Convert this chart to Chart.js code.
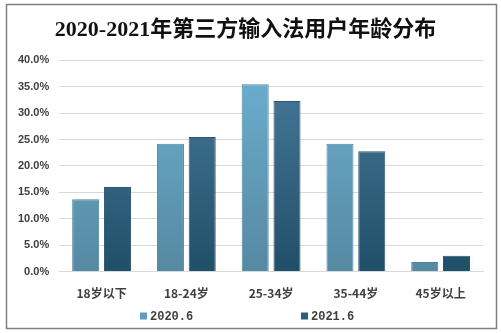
<!DOCTYPE html>
<html><head><meta charset="utf-8">
<script src="https://cdn.jsdelivr.net/npm/chart.js@4/dist/chart.umd.min.js"></script>
<style>html,body{margin:0;padding:0;background:#fff;}#wrap{width:501px;height:333px;position:relative;}</style>
</head><body><div id="wrap"><canvas id="c" width="501" height="333"></canvas></div>
<script>
const categories = ["18岁以下", "18-24岁", "25-34岁", "35-44岁", "45岁以上"];
const series2020 = [13.7, 24.2, 35.5, 24.2, 1.8];
const series2021 = [16.0, 25.5, 32.3, 22.8, 3.0];
const seriesNames = ["2020.6", "2021.6"];
const titleText = "2020-2021年第三方输入法用户年龄分布";
const legendColors = ['#5d9dbd', '#2f5e7c'];

function grad(ctx, area, c1, c2) {
  const g = ctx.createLinearGradient(0, area.top, 0, area.bottom);
  g.addColorStop(0, c1); g.addColorStop(1, c2); return g;
}
const frame = {
  id: 'frame',
  afterDraw(chart) {
    const ctx = chart.ctx; ctx.save();
    ctx.strokeStyle = '#808080'; ctx.lineWidth = 1.5;
    ctx.strokeRect(6.5, 4.5, 490, 324);
    // legend
    ctx.font = "bold 12px 'Liberation Mono', 'Noto Sans CJK SC', monospace";
    ctx.textBaseline = 'middle';
    const xs = [140, 301], y = 316;
    chart.data.datasets.forEach((ds, i) => {
      ctx.fillStyle = legendColors[i];
      ctx.fillRect(xs[i], y - 3.5, 7, 7);
      ctx.fillStyle = '#404040';
      ctx.fillText(ds.label, xs[i] + 10, y + 0.5);
    });
    ctx.restore();
  }
};
new Chart(document.getElementById('c'), {
  type: 'bar',
  data: {
    labels: categories,
    datasets: [
      { label: seriesNames[0], data: series2020,
        backgroundColor: c => { const a = c.chart.chartArea; return a ? grad(c.chart.ctx, a, '#6cb0d1', '#5689a2') : '#62a0c0'; },
        borderColor: '#4e839e', borderWidth: 1 },
      { label: seriesNames[1], data: series2021,
        backgroundColor: c => { const a = c.chart.chartArea; return a ? grad(c.chart.ctx, a, '#497b9d', '#204f68') : '#3a6a88'; },
        borderColor: '#2c5671', borderWidth: 1 }
    ]
  },
  options: {
    responsive: false, animation: false,
    layout: { padding: { left: 8, right: 18, top: 8, bottom: 25 } },
    datasets: { bar: { categoryPercentage: 0.75, barPercentage: 0.85 } },
    plugins: {
      title: { display: true, text: titleText, color: '#111',
        font: { family: "'Liberation Serif', 'Noto Sans CJK SC', serif", size: 22, weight: 'bold' },
        padding: { top: 9, bottom: 17 } },
      legend: { display: false },
      tooltip: { enabled: false }
    },
    scales: {
      x: { grid: { display: false }, border: { color: '#d9d9d9' },
        ticks: { color: '#404040', padding: 7, font: { family: "'Noto Sans CJK SC', sans-serif", size: 12, weight: 'bold' } } },
      y: { min: 0, max: 40, border: { display: false },
        grid: { color: '#d9d9d9', lineWidth: 1, drawTicks: false },
        ticks: { stepSize: 5, autoSkip: false, padding: 10, color: '#404040', callback: v => v.toFixed(1) + '%',
          font: { family: "'Liberation Sans', sans-serif", size: 11, weight: 'bold' } } }
    }
  },
  plugins: [frame]
});
</script></body></html>
